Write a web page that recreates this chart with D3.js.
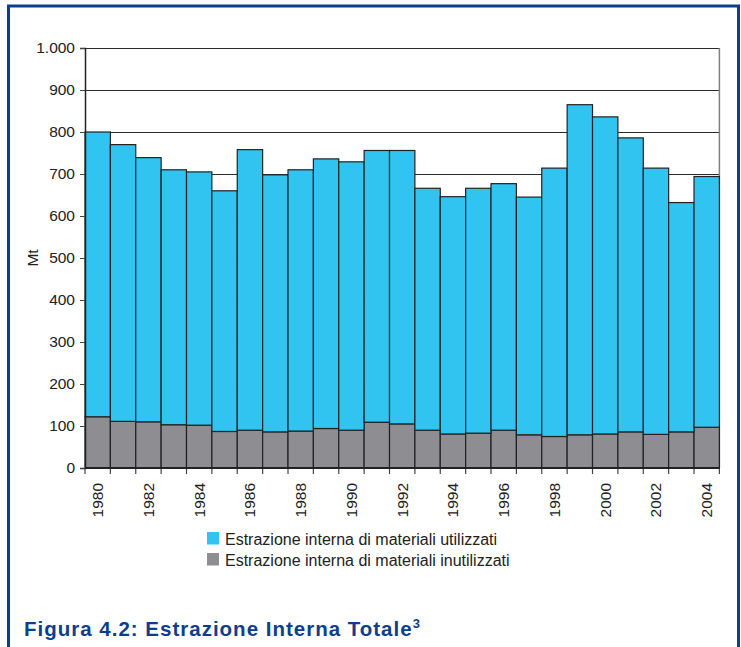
<!DOCTYPE html>
<html>
<head>
<meta charset="utf-8">
<script src="https://cdn.jsdelivr.net/npm/d3@7"></script>
<style>
    body { margin: 0; background: #fff; }
    svg { display: block; }
</style>
</head>
<body>
<div id="chart"></div>
<script>
// data (Mt)
let years = d3.range(1980, 2005)
let utilizzati = [678, 659, 629, 607, 603, 573, 668, 612, 622, 642, 639, 647, 651,
    576, 565, 583, 587, 566, 639, 786, 755, 700, 634, 546, 597]
let inutilizzati = [122, 111, 110, 103, 102, 87, 90, 86, 88, 94, 90, 109, 105,
    90, 81, 83, 90, 79, 75, 79, 81, 86, 80, 86, 97]
let yTicks = [0, 100, 200, 300, 400, 500, 600, 700, 800, 900, 1000]
let xLabels = years.filter(y => y % 2 == 0)
let seriesNames = ['Estrazione interna di materiali utilizzati', 'Estrazione interna di materiali inutilizzati']

let svgWidth = 741
let svgHeight = 647
let padding = { 'left': 85, 'right': 741 - 719.4, 'top': 48, 'bottom': 647 - 468 }

let colBlue = '#31c4f1'
let colGrey = '#8d8d92'
let frameBlue = '#0b3f8e'

let svg = d3.select('#chart').append('svg')
    .attr('width', svgWidth)
    .attr('height', svgHeight)
    .style('font-family', '"Liberation Sans", Arial, sans-serif')

// outer frame
svg.append('path')
    .attr('d', `M8.5,${svgHeight + 2} V6 H738.5 V${svgHeight + 2}`)
    .attr('fill', 'none')
    .attr('stroke', frameBlue)
    .attr('stroke-width', 3)

let rows = years.map((y, i) => ({ year: y, inut: inutilizzati[i], ut: utilizzati[i] }))
let stacked = d3.stack().keys(['inut', 'ut'])(rows)

let x = d3.scaleBand()
    .domain(years)
    .range([padding.left, svgWidth - padding.right])
    .padding(0)

let y = d3.scaleLinear()
    .domain([0, 1000])
    .range([svgHeight - padding.bottom, padding.top])

let it = d3.formatLocale({ decimal: ',', thousands: '.', grouping: [3], currency: ['', '€'] })

// gridlines
svg.append('g')
    .selectAll('line')
    .data(yTicks.filter(d => d > 0))
    .enter()
    .append('line')
    .attr('x1', padding.left)
    .attr('x2', svgWidth - padding.right)
    .attr('y1', d => y(d) + 0.5)
    .attr('y2', d => y(d) + 0.5)
    .attr('stroke', '#2a2a2a')
    .attr('stroke-width', 1.2)

// right border of plot
svg.append('line')
    .attr('x1', svgWidth - padding.right)
    .attr('x2', svgWidth - padding.right)
    .attr('y1', y(1000))
    .attr('y2', y(0))
    .attr('stroke', '#808080')
    .attr('stroke-width', 1.5)

// bars
let colors = { 'inut': colGrey, 'ut': colBlue }
svg.append('g')
    .selectAll('g')
    .data(stacked)
    .enter()
    .append('g')
    .attr('fill', d => colors[d.key])
    .selectAll('rect')
    .data(d => d)
    .enter()
    .append('rect')
    .attr('x', d => x(d.data.year))
    .attr('y', d => y(d[1]))
    .attr('width', x.bandwidth())
    .attr('height', d => y(d[0]) - y(d[1]))
    .attr('stroke', '#222')
    .attr('stroke-width', 1.2)

// y axis
let axis_y = d3.axisLeft(y)
    .tickValues(yTicks)
    .tickSize(5)
    .tickFormat(d => it.format(',')(d))
let gy = svg.append('g')
    .attr('transform', `translate(${padding.left}, 0)`)
    .call(axis_y)
gy.select('.domain').attr('stroke', '#222').attr('stroke-width', 1.5)
gy.selectAll('.tick line').attr('stroke', '#444')
gy.selectAll('.tick text')
    .attr('x', -10)
    .attr('font-size', 15.5)
    .attr('font-family', '"Liberation Sans", Arial, sans-serif')
    .attr('fill', '#222')

svg.append('text')
    .attr('transform', `translate(38, ${y(500)}) rotate(-90)`)
    .attr('text-anchor', 'middle')
    .attr('font-size', 15.5)
    .attr('fill', '#222')
    .text('Mt')

// x axis: ticks on bar boundaries
let xBounds = years.map(d => x(d)).concat([x(years[years.length - 1]) + x.bandwidth()])
let gx = svg.append('g')
svg.append('line')
    .attr('x1', padding.left)
    .attr('x2', svgWidth - padding.right)
    .attr('y1', y(0))
    .attr('y2', y(0))
    .attr('stroke', '#222')
    .attr('stroke-width', 2)
gx.selectAll('line')
    .data(xBounds)
    .enter()
    .append('line')
    .attr('x1', d => d)
    .attr('x2', d => d)
    .attr('y1', y(0))
    .attr('y2', y(0) + 6)
    .attr('stroke', '#444')
    .attr('stroke-width', 1.2)
gx.selectAll('text')
    .data(xLabels)
    .enter()
    .append('text')
    .attr('transform', d => `translate(${x(d) + x.bandwidth() / 2 + 5.5}, ${y(0) + 15}) rotate(-90)`)
    .attr('text-anchor', 'end')
    .attr('font-size', 15.5)
    .attr('fill', '#222')
    .text(d => d)

// legend
let legend = svg.append('g')
    .attr('transform', 'translate(207, 532)')
let legCols = [colBlue, colGrey]
seriesNames.forEach((name, i) => {
    legend.append('rect')
        .attr('x', 0)
        .attr('y', i * 21)
        .attr('width', 12)
        .attr('height', 12.5)
        .attr('fill', legCols[i])
    legend.append('text')
        .attr('x', 18)
        .attr('y', i * 21 + 12.5)
        .attr('font-size', 16)
        .attr('fill', '#222')
        .text(name)
})

// title
let title = svg.append('text')
    .attr('x', 24)
    .attr('y', 636)
    .attr('font-family', '"Liberation Sans Narrow", "Arial Narrow", "Liberation Sans", sans-serif')
    .attr('font-weight', 'bold')
    .attr('font-size', 20.5)
    .attr('letter-spacing', 1)
    .attr('fill', frameBlue)
title.append('tspan').text('Figura 4.2: Estrazione Interna Totale')
title.append('tspan')
    .attr('dy', -8)
    .attr('font-size', 13)
    .text('3')
</script>
</body>
</html>
